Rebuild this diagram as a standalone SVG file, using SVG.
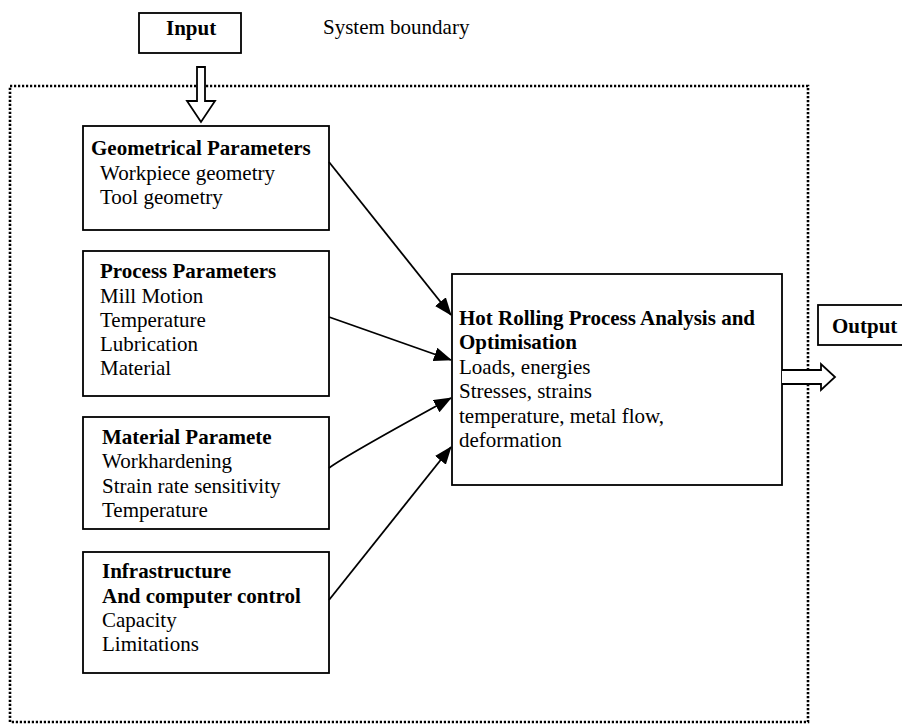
<svg xmlns="http://www.w3.org/2000/svg" width="902" height="724" viewBox="0 0 902 724">
<style>
.box{fill:#fff;stroke:#000;stroke-width:1.8}
.t{font-family:"Liberation Serif","Times New Roman",serif;font-size:21px;fill:#000}
.b{font-weight:bold}
.conn{fill:none;stroke:#000;stroke-width:1.8}
.hollow{fill:#fff;stroke:#000;stroke-width:1.8;stroke-linejoin:miter}
.boundary{fill:none;stroke:#000;stroke-width:2.6;stroke-dasharray:2.2 1.8}
</style>
<defs>
<marker id="ah" markerUnits="userSpaceOnUse" markerWidth="18" markerHeight="14" refX="17" refY="7" orient="auto">
<path d="M0,0 L18,7 L0,14 Z" fill="#000"/>
</marker>
</defs>
<rect width="902" height="724" fill="#fff"/>

<g id="system-boundary">
<rect class="boundary" x="10" y="86" width="798" height="636"/>
<text class="t" x="323" y="34">System boundary</text>
</g>

<g id="input">
<rect class="box" x="139" y="13" width="102" height="40"/>
<text class="t b" x="166" y="35">Input</text>
<path class="hollow" d="M197,67 V101 H187 L201,122 L215,101 H205 V67 Z"/>
</g>

<g id="geometrical">
<rect class="box" x="83" y="126" width="246" height="104"/>
<text class="t b" x="91" y="155">Geometrical Parameters</text>
<text class="t" x="100" y="180">Workpiece geometry</text>
<text class="t" x="100" y="204">Tool geometry</text>
</g>

<g id="process">
<rect class="box" x="83" y="251" width="246" height="145"/>
<text class="t b" x="100" y="278">Process Parameters</text>
<text class="t" x="100" y="303">Mill Motion</text>
<text class="t" x="100" y="327">Temperature</text>
<text class="t" x="100" y="351">Lubrication</text>
<text class="t" x="100" y="375">Material</text>
</g>

<g id="material">
<rect class="box" x="83" y="417" width="246" height="112"/>
<text class="t b" x="102" y="444">Material Paramete</text>
<text class="t" x="102" y="468">Workhardening</text>
<text class="t" x="102" y="493">Strain rate sensitivity</text>
<text class="t" x="102" y="517">Temperature</text>
</g>

<g id="infrastructure">
<rect class="box" x="83" y="552" width="246" height="121"/>
<text class="t b" x="102" y="578">Infrastructure</text>
<text class="t b" x="102" y="603">And computer control</text>
<text class="t" x="102" y="627">Capacity</text>
<text class="t" x="102" y="651">Limitations</text>
</g>

<g id="analysis">
<rect class="box" x="452" y="274" width="330" height="211"/>
<text class="t b" x="459" y="325">Hot Rolling Process Analysis and</text>
<text class="t b" x="459" y="349">Optimisation</text>
<text class="t" x="459" y="374">Loads, energies</text>
<text class="t" x="459" y="398">Stresses, strains</text>
<text class="t" x="459" y="423">temperature, metal flow,</text>
<text class="t" x="459" y="447">deformation</text>
</g>

<g id="output">
<rect class="box" x="818" y="305" width="100" height="40"/>
<text class="t b" x="832" y="333">Output</text>
</g>

<g id="connectors">
<line class="conn" x1="329" y1="162" x2="451" y2="315" marker-end="url(#ah)"/>
<line class="conn" x1="329" y1="317" x2="451" y2="360" marker-end="url(#ah)"/>
<path class="conn" d="M329,468 Q345,456 451,398" marker-end="url(#ah)"/>
<line class="conn" x1="329" y1="600" x2="451" y2="447" marker-end="url(#ah)"/>
<path class="hollow" d="M782,370 H821 V364 L835,377 L821,390 V384 H782"/>
</g>
</svg>
